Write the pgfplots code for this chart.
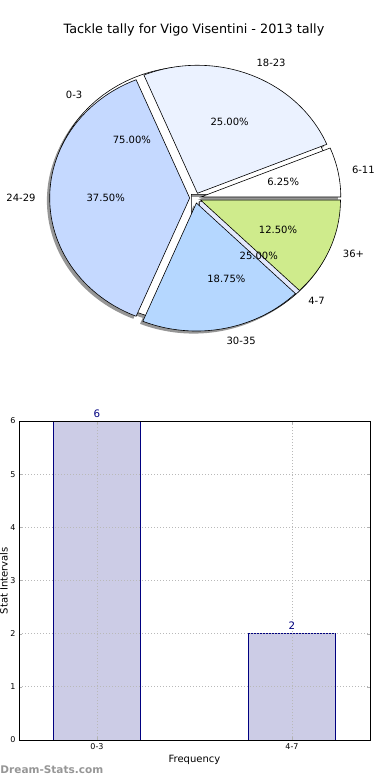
\documentclass[border=0pt]{standalone}
\usepackage{pgfplots}
\pgfplotsset{compat=1.18}
\usepackage{fontspec}
\setmainfont{DejaVu Sans}
\definecolor{cA}{RGB}{255,255,255}   % 0-3
\definecolor{cB}{RGB}{226,232,252}   % 4-7
\definecolor{cC}{RGB}{255,255,255}   % 6-11
\definecolor{cD}{RGB}{235,242,255}   % 18-23
\definecolor{cE}{RGB}{197,217,255}   % 24-29
\definecolor{cF}{RGB}{181,215,255}   % 30-35
\definecolor{cG}{RGB}{207,235,140}   % 36+
\definecolor{shadowgray}{RGB}{150,150,150}
\definecolor{navyc}{RGB}{0,0,128}
\definecolor{barfill}{RGB}{204,204,230}
\definecolor{wmgray}{RGB}{150,150,150}
% #1 style, #2 start angle, #3 end angle, #4/#5 explode offset of the wedge centre
\newcommand{\pieslice}[5]{%
  \addplot[#1, mark=none, domain=#2:#3, samples=72] ({#4+cos(x)},{#5+sin(x)}) -- (axis cs:#4,#5) -- cycle;}
\begin{document}
\begin{tikzpicture}[x=1pt,y=1pt]
\path[use as bounding box] (0,0) rectangle (390,-780);
\node[font=\fontsize{12.8}{15}\selectfont] at (194,-30) {Tackle tally for Vigo Visentini - 2013 tally};
% Pie: first series 0-3 = 75 %, 4-7 = 25 %; second series 6-11 = 6.25 %, 18-23 = 25 %,
% 24-29 = 37.5 %, 30-35 = 18.75 %, 36+ = 12.5 % (angles = percent x 3.6)
\begin{axis}[at={(195.3pt,-198pt)}, anchor=center, x=140pt, y=128pt,
  xmin=-1.3, xmax=1.3, ymin=-1.2, ymax=1.2, hide axis, clip=false,
  every node/.style={font=\fontsize{10.3}{12}\selectfont}]
% shadows
\pieslice{draw=none, fill=shadowgray}{0}{270}{-0.0483}{0.0083}
\pieslice{draw=none, fill=shadowgray}{270}{360}{0.0083}{-0.0483}
\pieslice{draw=none, fill=shadowgray}{0}{22.5}{0.0192}{-0.0122}
\pieslice{draw=none, fill=shadowgray}{22.5}{112.5}{-0.0047}{0.0170}
\pieslice{draw=none, fill=shadowgray}{112.5}{247.5}{-0.06}{-0.02}
\pieslice{draw=none, fill=shadowgray}{247.5}{315}{-0.0122}{-0.0592}
\pieslice{draw=none, fill=shadowgray}{315}{360}{0.0170}{-0.0353}
% first pie
\pieslice{draw=black, line width=0.6pt, fill=cA}{0}{270}{-0.0283}{0.0283}
\pieslice{draw=black, line width=0.6pt, fill=cB}{270}{360}{0.0283}{-0.0283}
% second pie
\pieslice{draw=black, line width=0.6pt, fill=cC}{0}{22.5}{0.0392}{0.0078}
\pieslice{draw=black, line width=0.6pt, fill=cD}{22.5}{112.5}{0.0153}{0.0370}
\pieslice{draw=black, line width=0.6pt, fill=cE}{112.5}{247.5}{-0.04}{0}
\pieslice{draw=black, line width=0.6pt, fill=cF}{247.5}{315}{0.0078}{-0.0392}
\pieslice{draw=black, line width=0.6pt, fill=cG}{315}{360}{0.0370}{-0.0153}
% labels
\node[anchor=east, inner sep=0] at (axis cs:-0.806,0.806) {0-3};
\node at (axis cs:-0.453,0.453) {75.00\%};
\node[anchor=west, inner sep=0] at (axis cs:0.806,-0.806) {4-7};
\node at (axis cs:0.453,-0.453) {25.00\%};
\node[anchor=west, inner sep=0] at (axis cs:1.118,0.222) {6-11};
\node at (axis cs:0.628,0.125) {6.25\%};
\node[anchor=west, inner sep=0] at (axis cs:0.436,1.053) {18-23};
\node at (axis cs:0.245,0.591) {25.00\%};
\node[anchor=east, inner sep=0] at (axis cs:-1.14,0) {24-29};
\node at (axis cs:-0.64,0) {37.50\%};
\node[anchor=west, inner sep=0] at (axis cs:0.222,-1.118) {30-35};
\node at (axis cs:0.222,-0.628) {18.75\%};
\node[anchor=west, inner sep=0] at (axis cs:1.053,-0.436) {36+};
\node at (axis cs:0.591,-0.245) {12.50\%};
\end{axis}
% Bar chart
\begin{axis}[at={(19pt,-740pt)}, anchor=south west, scale only axis,
  width=351pt, height=319pt, xmin=-0.4, xmax=1.4, ymin=0, ymax=6,
  xtick={0,1}, xticklabels={0-3,4-7}, ytick={0,1,2,3,4,5,6},
  ybar, bar width=0.446, axis on top, clip=false,
  grid=major, major grid style={gray!55, line width=0.8pt, dash pattern=on 1pt off 2pt},
  tick align=inside, major tick length=3pt, tick style={gray!60},
  axis line style={black, line width=0.8pt},
  tick label style={font=\fontsize{8}{9}\selectfont},
  /pgf/number format/assume math mode=true,
  xlabel={Frequency}, ylabel={Stat Intervals},
  label style={font=\fontsize{10.3}{12}\selectfont},
  every axis x label/.style={at={(axis description cs:0.5,0)}, yshift=-20pt, anchor=center},
  every axis y label/.style={at={(axis description cs:0,0.5)}, xshift=-15pt, rotate=90, anchor=center},
  nodes near coords, nodes near coords style={text=navyc, font=\fontsize{10.3}{12}\selectfont}]
\addplot[fill=barfill, draw=navyc, line width=0.8pt] coordinates {(0,6) (1,2)};
\end{axis}
\node[anchor=west, inner sep=0, text=wmgray, font=\fontsize{10.5}{12}\selectfont\bfseries] at (0.3,-770) {Dream-Stats.com};
\end{tikzpicture}
\end{document}
